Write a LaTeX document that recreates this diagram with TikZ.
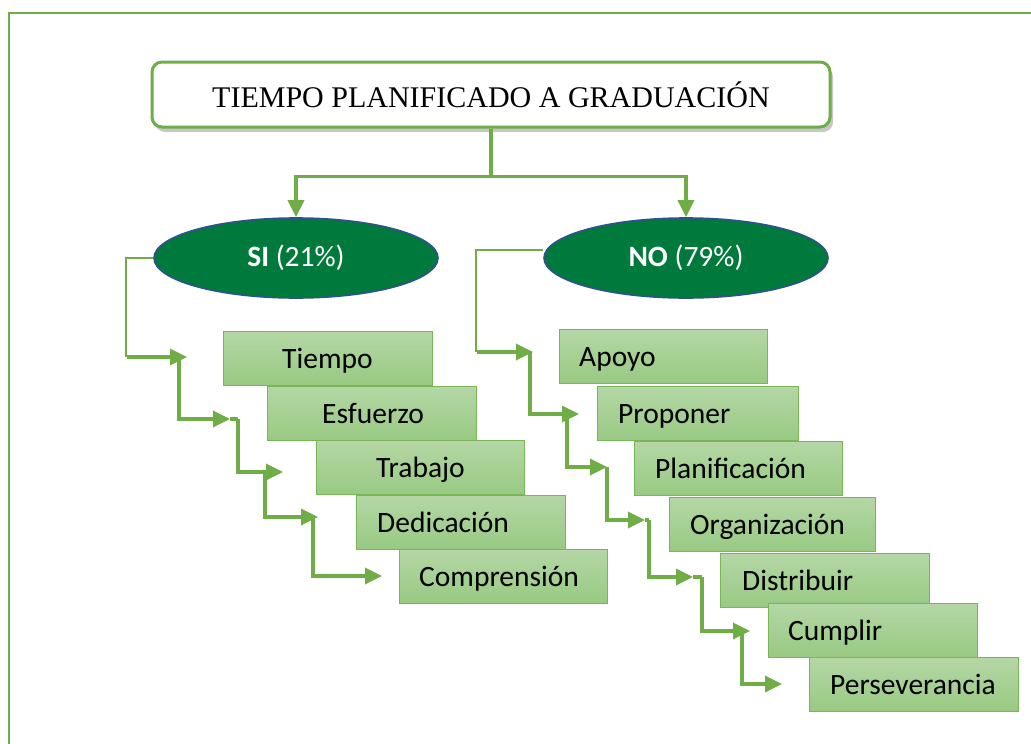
\documentclass[tikz,border=0pt]{standalone}
\usepackage{fontspec}
\setmainfont{Carlito}
\newfontfamily\titlefont{Liberation Serif}
\usetikzlibrary{arrows.meta,shadows,shapes.geometric}
\definecolor{lgreen}{HTML}{70AD47}
\definecolor{dgreen}{HTML}{00793D}
\definecolor{eborder}{HTML}{2F528F}
\definecolor{btop}{HTML}{B4D7A5}
\definecolor{bbot}{HTML}{98C982}
\definecolor{bborder}{HTML}{78B656}
\begin{document}
\begin{tikzpicture}[x=1pt,y=-1pt,
  conn/.style={lgreen, line width=3.4pt},
  thin conn/.style={lgreen, line width=1.8pt},
  arr/.style={conn, -{Triangle[length=17pt,width=16pt]}},
  stepbox/.style={draw=bborder, line width=1.4pt, top color=btop, bottom color=bbot, minimum height=54pt, inner sep=0pt, anchor=north west},
  lbl/.style={font=\fontsize{29.5}{33}\selectfont, text=black, inner sep=0pt, anchor=base west},
  oval/.style={ellipse, fill=dgreen, draw=eborder, line width=1.6pt, minimum width=284pt, minimum height=80pt, inner sep=0pt, text=white, font=\fontsize{29.5}{33}\selectfont}
]
\useasboundingbox (0,0) rectangle (1031,744);
\fill[white] (0,0) rectangle (1031,744);
\draw[lgreen, line width=2.8pt] (9,744) -- (9,13) -- (1031,13);

% title
\node[draw=lgreen, line width=3pt, rounded corners=10pt, fill=white,
      minimum width=678pt, minimum height=65pt,
      drop shadow={shadow xshift=3pt, shadow yshift=-5pt, fill=black, opacity=0.22}]
  (title) at (491,94.5) {\titlefont\fontsize{30}{34}\selectfont TIEMPO PLANIFICADO A GRADUACIÓN};

% ellipses
\node[oval] (si) at (296,258) {\textbf{SI} (21\%)};
\node[oval] (no) at (686,258) {\textbf{NO} (79\%)};

\draw[conn] (title.south) -- ++(0,48) coordinate (split);
\draw[arr] (split) -| (si.north);
\draw[arr] (split) -| (no.north);

% SI boxes
\node[stepbox, minimum width=209pt] (s1) at (223,331) {};
\node[stepbox, minimum width=209pt] (s2) at (267,386) {};
\node[stepbox, minimum width=208pt] (s3) at (316,440) {};
\node[stepbox, minimum width=209pt] (s4) at (356,495) {};
\node[stepbox, minimum width=208pt] (s5) at (399,549) {};
\node[lbl] at ([xshift=59pt, yshift=-10pt]s1.west) {Tiempo};
\node[lbl] at ([xshift=55pt, yshift=-10pt]s2.west) {Esfuerzo};
\node[lbl] at ([xshift=60pt, yshift=-10pt]s3.west) {Trabajo};
\node[lbl] at ([xshift=21pt, yshift=-10pt]s4.west) {Dedicación};
\node[lbl] at ([xshift=20pt, yshift=-10pt]s5.west) {Comprensión};

% SI chain
\coordinate (st1) at (187,357);
\coordinate (st2) at (230,419);
\coordinate (st3) at (283,472);
\coordinate (st4) at (318,517);
\coordinate (st5) at (382,576);
\draw[thin conn] (si.west) -- (126,258) -- (126,357);
\draw[arr] (127,357) -- (st1);
\draw[arr] (179,357) -- (179,419) -- (st2);
\draw[conn] (st2) -- (238,419);
\draw[arr] (238,419) -- (238,472) -- (st3);
\draw[arr] (265,472) -- (265,517) -- (st4);
\draw[arr] (313,517) -- (313,576) -- (st5);

% NO boxes
\node[stepbox, minimum width=208pt] (n1) at (559,329) {};
\node[stepbox, minimum width=201pt] (n2) at (597,386) {};
\node[stepbox, minimum width=208pt] (n3) at (634,441) {};
\node[stepbox, minimum width=206pt] (n4) at (669,497) {};
\node[stepbox, minimum width=209pt] (n5) at (720,553) {};
\node[stepbox, minimum width=209pt] (n6) at (768,603) {};
\node[stepbox, minimum width=209pt] (n7) at (809,657) {};
\node[lbl] at ([xshift=20pt, yshift=-10pt]n1.west) {Apoyo};
\node[lbl] at ([xshift=21pt, yshift=-10pt]n2.west) {Proponer};
\node[lbl] at ([xshift=21pt, yshift=-10pt]n3.west) {Planificación};
\node[lbl] at ([xshift=21pt, yshift=-10pt]n4.west) {Organización};
\node[lbl] at ([xshift=22pt, yshift=-10pt]n5.west) {Distribuir};
\node[lbl] at ([xshift=20pt, yshift=-10pt]n6.west) {Cumplir};
\node[lbl] at ([xshift=21pt, yshift=-10pt]n7.west) {Perseverancia};

% NO chain
\coordinate (nt1) at (533,352);
\coordinate (nt2) at (579,414);
\coordinate (nt3) at (607,467);
\coordinate (nt4) at (645,520);
\coordinate (nt5) at (693,577);
\coordinate (nt6) at (750,631);
\coordinate (nt7) at (782,684);
\draw[thin conn] ([yshift=8pt]no.west) -- (476,250) -- (476,352);
\draw[arr] (477,352) -- (nt1);
\draw[arr] (530,352) -- (530,414) -- (nt2);
\draw[arr] (567,414) -- (567,467) -- (nt3);
\draw[arr] (607,467) -- (607,520) -- (nt4);
\draw[conn] (nt4) -- (649,520);
\draw[arr] (649,520) -- (649,577) -- (nt5);
\draw[conn] (nt5) -- (702,577);
\draw[arr] (702,577) -- (702,631) -- (nt6);
\draw[arr] (742,631) -- (742,684) -- (nt7);
\end{tikzpicture}
\end{document}
